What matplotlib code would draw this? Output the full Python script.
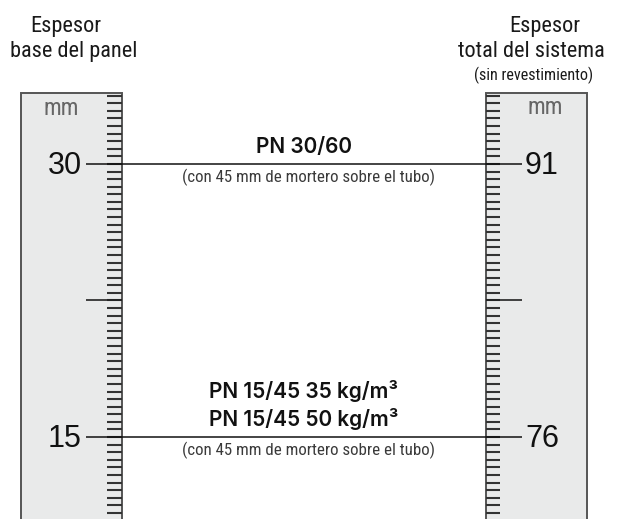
import numpy as np
import matplotlib
matplotlib.use("Agg")
import matplotlib.pyplot as plt
from matplotlib.patches import Rectangle

# data
base_vals = [30, 15]            # espesor base del panel (mm)
total_vals = [91, 76]           # espesor total del sistema (mm)
offset = 61                     # total - base
products = ["PN 30/60", "PN 15/45 35 kg/m³\nPN 15/45 50 kg/m³"]
notes = ["(con 45 mm de mortero sobre el tubo)"] * 2
left_header = ["Espesor", "base del panel"]
right_header = ["Espesor", "total del sistema", "(sin revestimiento)"]
mid_tick = 22.5
step = 15 / 36                  # small tick spacing on the ruler

narrow = ["Roboto Condensed", "Liberation Sans Narrow", "Liberation Sans"]
helv = ["Liberation Sans", "DejaVu Sans"]
boldf = ["Inter", "DejaVu Sans"]

fig = plt.figure(figsize=(6.18, 5.19), dpi=100)
ax = fig.add_axes([0, 0, 1, 1])
ax.set_xlim(0, 618)
# y axis in mm of the base panel
ax.set_ylim(10.495, 39.01)
ax.axis("off")

px = 1 / 18.2   # one pixel in mm units on this scale
ytop = 39.01

top = 33.9
bottom = 10.495
ruler_fill = "#e9eaea"
edge = "#555555"

# rulers
for x0, x1 in [(21, 122), (486, 587)]:
    ax.add_patch(Rectangle((x0, bottom - 1), x1 - x0, top - bottom + 1,
                           facecolor=ruler_fill, edgecolor="none", zorder=1))
    ax.plot([x0, x0, x1, x1], [bottom - 1, top, top, bottom - 1],
            color=edge, lw=1.4, zorder=2, solid_joinstyle="miter")

# small ticks
ticks = np.arange(15 - 10 * step, top - 0.1, step)
ax.hlines(ticks, 107, 122, color="#333333", lw=1.5, zorder=3)
ax.hlines(ticks, 486, 500, color="#333333", lw=1.5, zorder=3)

# mid ticks
ax.hlines(mid_tick, 86, 122, color="#222222", lw=1.2, zorder=3)
ax.hlines(mid_tick, 486, 522, color="#222222", lw=1.2, zorder=3)

# value lines and labels
for b, t, prod, note in zip(base_vals, total_vals, products, notes):
    ax.hlines(b, 86, 522, color="#111111", lw=1.1, zorder=4)
    ax.text(65, b - 0.1, str(b), ha="center", va="center", fontsize=22,
            family=helv, color="#111111")
    ax.text(542, t - offset - 0.1, str(t), ha="center", va="center",
            fontsize=22, family=helv, color="#111111")
    for i, line in enumerate(reversed(prod.split("\n"))):
        ax.text(304, b + 11 * px + i * 28.5 * px, line, ha="center",
                va="baseline", fontsize=15, family=boldf,
                fontweight="semibold", color="#111111")
    ax.text(309, b - 18 * px, note, ha="center", va="baseline",
            fontsize=12.2, family=narrow, color="#3a3a3a")

# mm labels
ax.text(61, ytop - 115 * px, "mm", ha="center", va="baseline", fontsize=17,
        family=narrow, color="#666666")
ax.text(545, ytop - 114 * px, "mm", ha="center", va="baseline", fontsize=17,
        family=narrow, color="#666666")

# headers
hx_left = [66, 74]
hx_right = [545, 531, 534]
hy = [32, 57, 80]
hsize = [16, 16, 11.6]
for s, x, y, fs in zip(left_header, hx_left, hy, hsize):
    ax.text(x, ytop - y * px, s, ha="center", va="baseline", fontsize=fs,
            family=narrow, color="#1a1a1a")
for s, x, y, fs in zip(right_header, hx_right, hy, hsize):
    ax.text(x, ytop - y * px, s, ha="center", va="baseline", fontsize=fs,
            family=narrow, color="#1a1a1a")

fig.savefig("out.png", dpi=100)
